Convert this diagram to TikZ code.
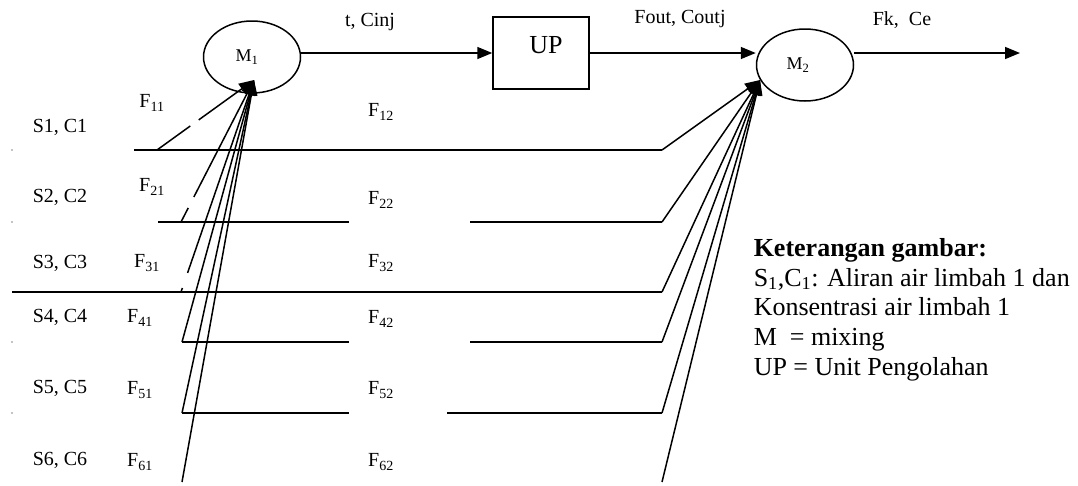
\documentclass[tikz,border=0pt]{standalone}
\usepackage{fontspec}
\setmainfont{Liberation Serif}
\usetikzlibrary{arrows.meta,calc,shapes.geometric}
\begin{document}
\begin{tikzpicture}[x=1pt,y=-1pt,line width=1.5pt,
  arr/.style={-{Triangle[length=15pt,width=12pt]}},
  lbl/.style={font=\fontsize{20}{24}\selectfont,inner sep=0pt},
  mlbl/.style={font=\fontsize{18}{22}\selectfont,inner sep=0pt},
  leg/.style={font=\fontsize{26}{30}\selectfont,inner sep=0pt,anchor=base west},
  mixer/.style={draw,ellipse,minimum width=97pt,minimum height=72pt,inner sep=0pt},
  unit/.style={draw,rectangle,minimum width=96pt,minimum height=72pt,inner sep=0pt}]
\useasboundingbox (0,0) rectangle (1078,485);

% main units
\node[mixer] (m1) at (252,57) {};
\node[mlbl] (m1t) at (247,57) {M\textsubscript{1}};
\node[unit] (up) at (541,53) {};
\node[font=\fontsize{26}{30}\selectfont,inner sep=0pt] (upt) at (546,45) {UP};
\node[mixer] (m2) at (805,65) {};
\node[mlbl] (m2t) at (798,65) {M\textsubscript{2}};
\coordinate (out) at (1020,53);
\coordinate (m1in) at (254,80);
\coordinate (m2in) at (760,80);

\draw[arr] (m1.east |- up.west) -- (up.west);
\draw[arr] (up.east) -- (m2.west |- up.east);
\draw[arr] (m2.east |- out) -- (out);

\node[lbl] (l1) at (370,22) {t, Cinj};
\node[lbl] (l2) at (680,19) {Fout, Coutj};
\node[lbl] (l3) at (902,20) {Fk,\ \ Ce};

% row coordinates
\coordinate (r1s) at (134,150); \coordinate (r1b) at (157,150); \coordinate (r1k) at (662,150);
\coordinate (r2s) at (158,222); \coordinate (r2b) at (181,222); \coordinate (r2m) at (349,222);
\coordinate (r2n) at (470,222); \coordinate (r2k) at (662,222);
\coordinate (r3s) at (12,292); \coordinate (r3b) at (181,292); \coordinate (r3k) at (662,292);
\coordinate (r4b) at (182,342); \coordinate (r4m) at (349,342);
\coordinate (r4n) at (470,342); \coordinate (r4k) at (662,342);
\coordinate (r5b) at (182,413); \coordinate (r5m) at (349,413);
\coordinate (r5n) at (447,413); \coordinate (r5k) at (662,413);
\coordinate (r6b) at (182,482); \coordinate (r6k) at (662,482);

% horizontal streams
\draw (r1s) -- (r1k);
\draw (r2s) -- (r2m); \draw (r2n) -- (r2k);
\draw (r3s) -- (r3k);
\draw (r4b) -- (r4m); \draw (r4n) -- (r4k);
\draw (r5b) -- (r5m); \draw (r5n) -- (r5k);

% branches to M1
\draw (r1b) -- ($(r1b)!0.343!(m1in)$);
\draw[arr] ($(r1b)!0.43!(m1in)$) -- (m1in);
\draw (r2b) -- ($(r2b)!0.099!(m1in)$);
\draw[arr] ($(r2b)!0.176!(m1in)$) -- (m1in);
\draw (r3b) -- ($(r3b)!0.019!(m1in)$);
\draw[arr] ($(r3b)!0.09!(m1in)$) -- (m1in);
\draw[arr] (r4b) -- (m1in);
\draw[arr] (r5b) -- (m1in);
\draw[arr] (r6b) -- (m1in);

% branches to M2
\draw[arr] (r1k) -- (m2in);
\draw[arr] (r2k) -- (m2in);
\draw[arr] (r3k) -- (m2in);
\draw[arr] (r4k) -- (m2in);
\draw[arr] (r5k) -- (m2in);
\draw[arr] (r6k) -- (m2in);

% tiny marks at left
\fill (12,150) circle (0.6);
\fill (12,222) circle (0.6);
\fill (12,342) circle (0.6);
\fill (12,413) circle (0.6);

% stream labels
\node[lbl] (s1) at (60,127) {S1, C1};
\node[lbl] (s2) at (60,197) {S2, C2};
\node[lbl] (s3) at (60,263) {S3, C3};
\node[lbl] (s4) at (60,317) {S4, C4};
\node[lbl] (s5) at (60,388) {S5, C5};
\node[lbl] (s6) at (60,460) {S6, C6};

\node[lbl] (f11) at (152,103) {F\textsubscript{11}};
\node[lbl] (f21) at (152,187) {F\textsubscript{21}};
\node[lbl] (f31) at (147,263) {F\textsubscript{31}};
\node[lbl] (f41) at (140,318) {F\textsubscript{41}};
\node[lbl] (f51) at (140,390) {F\textsubscript{51}};
\node[lbl] (f61) at (140,462) {F\textsubscript{61}};

\node[lbl] (f12) at (381,112) {F\textsubscript{12}};
\node[lbl] (f22) at (381,200) {F\textsubscript{22}};
\node[lbl] (f32) at (381,263) {F\textsubscript{32}};
\node[lbl] (f42) at (381,319) {F\textsubscript{42}};
\node[lbl] (f52) at (381,390) {F\textsubscript{52}};
\node[lbl] (f62) at (381,462) {F\textsubscript{62}};

% legend
\node[leg,font=\fontsize{26}{30}\selectfont\bfseries] (k0) at (753,256) {Keterangan gambar:};
\node[leg] (k1) at (753,286) {S\textsubscript{1},C\textsubscript{1}: Aliran air limbah 1 dan};
\node[leg] (k2) at (753,315) {Konsentrasi air limbah 1};
\node[leg] (k3) at (753,345) {M\ \ = mixing};
\node[leg] (k4) at (753,375) {UP = Unit Pengolahan};
\end{tikzpicture}
\end{document}
